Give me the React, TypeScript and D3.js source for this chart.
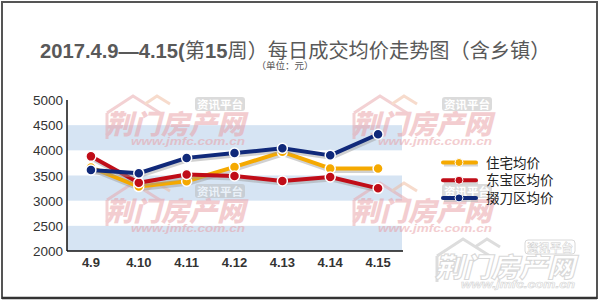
import React from "react";
import * as d3 from "d3";

const categories = ["4.9", "4.10", "4.11", "4.12", "4.13", "4.14", "4.15"];
const residential = [3660, 3280, 3385, 3670, 3970, 3640, 3640];
const dongbao = [3880, 3355, 3520, 3490, 3390, 3470, 3245];
const duodao = [3610, 3545, 3850, 3945, 4040, 3900, 4320];
const yTicks = [2000, 2500, 3000, 3500, 4000, 4500, 5000];
const bands = [[4000, 4500], [3000, 3500], [2000, 2500]];

const series = [
  { name: "住宅均价", values: residential, color: "#f5a900" },
  { name: "东宝区均价", values: dongbao, color: "#c00d18" },
  { name: "掇刀区均价", values: duodao, color: "#10297a" },
];

const W = 600, H = 301;
const left = 67, right = 402, top = 100, bottom = 251;

const CJK = "'Noto Sans CJK SC', sans-serif";
const ARIAL = "Arial, 'Liberation Sans', sans-serif";

function Watermark({ x, y, faint }: { x: number; y: number; faint?: boolean }) {
  const pink = faint ? "#ffffff" : "#e99ca2";
  const stroke = faint ? "#d8d8d8" : "none";
  const op = faint ? 1 : 0.5;
  return (
    <g transform={`translate(${x},${y})`} opacity={op}>
      <path d="M4,18 L30,1 L57,18" fill="none" stroke={faint ? "#dddddd" : "#e8a4a8"} strokeWidth={3} />
      <path d="M42,9 L54,1 L67,9" fill="none" stroke={faint ? "#dddddd" : "#f0b89a"} strokeWidth={3} />
      <path d="M4,18 L4,44" fill="none" stroke={faint ? "#dddddd" : "#e8a4a8"} strokeWidth={3} />
      <text x={2} y={39} fontFamily={CJK} fontWeight={900} fontStyle="italic" fontSize={27}
        fill={pink} stroke={stroke} strokeWidth={1} textLength={140} lengthAdjust="spacingAndGlyphs">荆门房产网</text>
      <text x={28} y={50} fontFamily={ARIAL} fontWeight={700} fontStyle="italic" fontSize={11}
        fill={pink} stroke={stroke} strokeWidth={0.6} textLength={114} lengthAdjust="spacingAndGlyphs">www.jmfc.com.cn</text>
      <rect x={92} y={2} width={50} height={14} rx={3} fill={faint ? "#ffffff" : "#b9b9b9"} stroke={faint ? "#d8d8d8" : "none"} />
      <text x={117} y={13.5} textAnchor="middle" fontFamily={CJK} fontWeight={700} fontSize={11.5}
        fill="#ffffff" stroke={faint ? "#d0d0d0" : "none"} strokeWidth={0.5}>资讯平台</text>
    </g>
  );
}

export default function App() {
  const x = d3.scalePoint<string>().domain(categories).range([left, right]).padding(0.5);
  const y = d3.scaleLinear().domain([2000, 5000]).range([bottom, top]);
  const line = d3.line<number>().x((_, i) => x(categories[i])!).y((d) => y(d));

  return (
    <svg width={W} height={H} style={{ position: "fixed", left: 0, top: 0, background: "#fff" }}>
      <rect x={0} y={0} width={W} height={H} fill="#fff" />
      {/* frame */}
      <rect x={2} y={2} width={595} height={296} fill="none" stroke="#555" strokeWidth={2} />
      <line x1={2} y1={298} x2={597} y2={298} stroke="#333" strokeWidth={2.5} />

      {/* title */}
      <text x={40} y={58} fill="#595959" fontSize={20.2}>
        <tspan fontFamily={ARIAL} fontWeight={700}>2017.4.9—4.15(</tspan>
        <tspan fontFamily={CJK}>第</tspan>
        <tspan fontFamily={ARIAL} fontWeight={700}>15</tspan>
        <tspan fontFamily={CJK}>周）每日成交均价走势图（含乡镇）</tspan>
      </text>
      <text x={285} y={69} textAnchor="middle" fill="#555" fontSize={9.5} fontFamily={CJK}>（单位：元）</text>

      {/* bands */}
      {bands.map((b, i) => (
        <rect key={i} x={left} y={y(b[1])} width={right - left} height={y(b[0]) - y(b[1])} fill="#d6e4f3" />
      ))}

      {/* watermarks */}
      <Watermark x={103} y={95} />
      <Watermark x={350} y={95} />
      <Watermark x={103} y={182} />
      <Watermark x={350} y={182} />
      <Watermark x={433} y={238} faint />

      {/* axes */}
      <line x1={left} y1={top} x2={left} y2={bottom} stroke="#111" strokeWidth={1.5} />
      <line x1={left} y1={bottom} x2={right + 1} y2={bottom} stroke="#111" strokeWidth={1.5} />
      {yTicks.map((t) => (
        <text key={t} x={63} y={y(t) + 5} textAnchor="end" fontFamily={ARIAL}
          fontSize={13.5} fill="#333">{t}</text>
      ))}
      {categories.map((c) => (
        <text key={c} x={x(c)!} y={267} textAnchor="middle" fontFamily={ARIAL}
          fontWeight={700} fontSize={13} fill="#333">{c}</text>
      ))}

      {/* lines */}
      {series.map((s) => (
        <g key={s.name}>
          <path d={line(s.values)!} transform="translate(1,2.5)" fill="none" stroke="#999" strokeOpacity={0.45} strokeWidth={4} strokeLinejoin="round" />
          <path d={line(s.values)!} fill="none" stroke={s.color} strokeWidth={4} strokeLinejoin="round" />
          {s.values.map((v, i) => (
            <circle key={i} cx={x(categories[i])!} cy={y(v)} r={5} fill={s.color} stroke="#fff" strokeWidth={1.5} />
          ))}
        </g>
      ))}

      {/* legend */}
      {series.map((s, i) => {
        const ly = 162.5 + i * 17.7;
        return (
          <g key={s.name}>
            <line x1={444} y1={ly + 2} x2={478} y2={ly + 2} stroke="#bbb" strokeOpacity={0.6} strokeWidth={4} />
            <line x1={443} y1={ly} x2={455} y2={ly} stroke={s.color} strokeWidth={4} strokeLinecap="round" />
            <line x1={463} y1={ly} x2={476} y2={ly} stroke={s.color} strokeWidth={4} strokeLinecap="round" />
            <circle cx={459} cy={ly} r={4} fill={s.color} stroke="#fff" strokeWidth={1} />
            <text x={486} y={ly + 5} fontFamily={CJK} fontSize={13.5} fill="#222">{s.name}</text>
          </g>
        );
      })}
    </svg>
  );
}
